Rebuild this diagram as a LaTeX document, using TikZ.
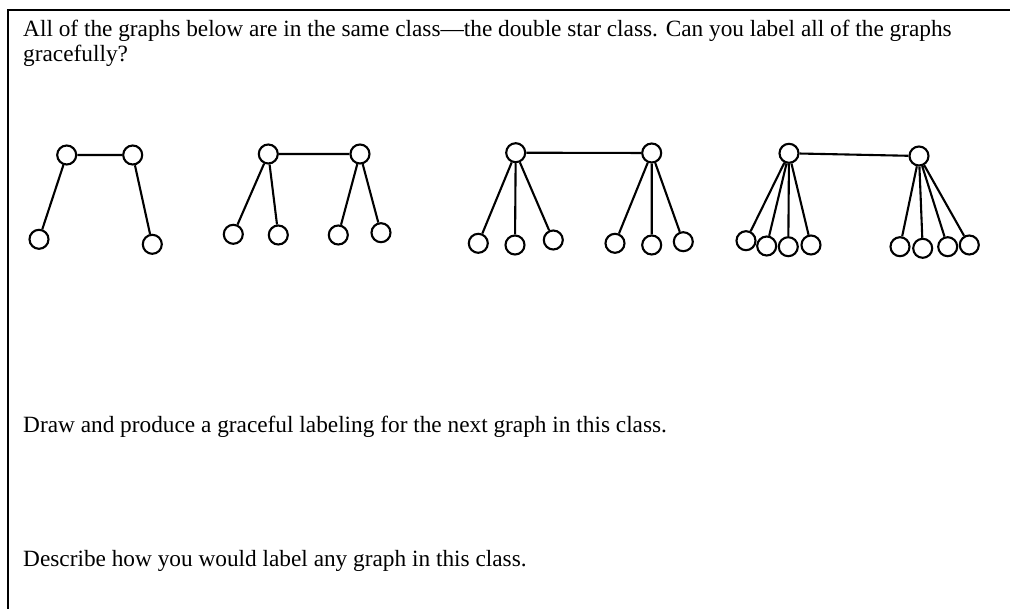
\documentclass[tikz,border=0pt]{standalone}
\usepackage{fontspec}
\setmainfont{Liberation Serif}
\begin{document}
\begin{tikzpicture}[x=1pt,y=-1pt,
  vtx/.style={circle,draw,line width=2.1pt,fill=white,minimum size=19pt,inner sep=0pt},
  edge/.style={line width=2.1pt},
  txt/.style={anchor=base west,inner sep=0pt,font=\fontsize{23.3}{28}\selectfont}]
\useasboundingbox (0,0) rectangle (1010,609);
% frame (open to the right and bottom)
\draw[line width=2pt] (7.5,609) -- (7.5,10) -- (1010,10);

% text
\node[txt] (t1) at (23,37) {All of the graphs below are in the same class---the double star class. Can you label all of the graphs};
\node[txt] (t2) at (23,62) {gracefully?};
\node[txt] (t3) at (23,433) {Draw and produce a graceful labeling for the next graph in this class.};
\node[txt] (t4) at (23,566) {Describe how you would label any graph in this class.};

% graph 1
\node[vtx] (a1) at (66.7,155) {};
\node[vtx] (a2) at (132.7,155) {};
\node[vtx] (a3) at (39,239.3) {};
\node[vtx] (a4) at (152.3,244.3) {};
\draw[edge] (a1) -- (a2) (a1) -- (a3) (a2) -- (a4);

% graph 2
\node[vtx] (b1) at (268.3,154) {};
\node[vtx] (b2) at (360,154) {};
\node[vtx] (b3) at (233.3,234.3) {};
\node[vtx] (b4) at (278.3,235) {};
\node[vtx] (b5) at (338.3,235) {};
\node[vtx] (b6) at (381,232.7) {};
\draw[edge] (b1) -- (b2) (b1) -- (b3) (b1) -- (b4) (b2) -- (b5) (b2) -- (b6);

% graph 3
\node[vtx] (c1) at (515.7,152.7) {};
\node[vtx] (c2) at (651.7,153) {};
\node[vtx] (c3) at (478.3,243.3) {};
\node[vtx] (c4) at (515,245) {};
\node[vtx] (c5) at (553.3,240) {};
\node[vtx] (c6) at (615,243.3) {};
\node[vtx] (c7) at (651.7,245) {};
\node[vtx] (c8) at (683.3,241.7) {};
\draw[edge] (c1) -- (c2) (c1) -- (c3) (c1) -- (c4) (c1) -- (c5)
  (c2) -- (c6) (c2) -- (c7) (c2) -- (c8);

% graph 4
\node[vtx] (d1) at (789,153.3) {};
\node[vtx] (d2) at (919,156) {};
\node[vtx] (d3) at (746,240.7) {};
\node[vtx] (d4) at (766.7,246) {};
\node[vtx] (d5) at (788.3,246.7) {};
\node[vtx] (d6) at (811,245) {};
\node[vtx] (d7) at (900,246.7) {};
\node[vtx] (d8) at (922.7,248.3) {};
\node[vtx] (d9) at (947.7,246.7) {};
\node[vtx] (d10) at (969.3,245) {};
\draw[edge] (d1) -- (d2) (d1) -- (d3) (d1) -- (d4) (d1) -- (d5) (d1) -- (d6)
  (d2) -- (d7) (d2) -- (d8) (d2) -- (d9) (d2) -- (d10);
\end{tikzpicture}
\end{document}
